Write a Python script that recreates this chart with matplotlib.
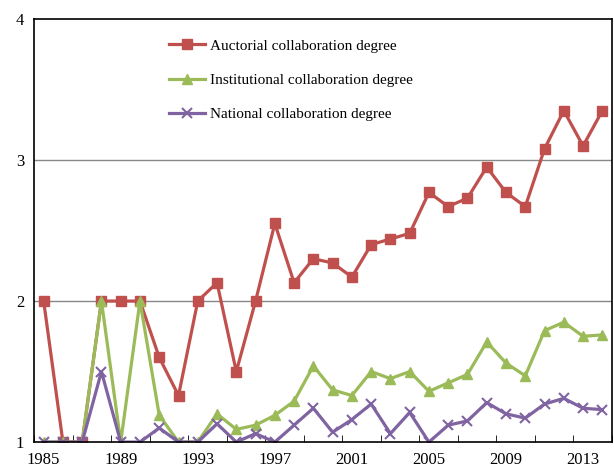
import numpy as np
import matplotlib.pyplot as plt

plt.rcParams['font.family'] = ['Liberation Serif', 'DejaVu Serif']

years = list(range(1985, 2015))
auctorial = [2.0, 1.0, 1.0, 2.0, 2.0, 2.0, 1.6, 1.33, 2.0, 2.13,
             1.5, 2.0, 2.55, 2.13, 2.3, 2.27, 2.17, 2.4, 2.44, 2.48,
             2.77, 2.67, 2.73, 2.95, 2.77, 2.67, 3.08, 3.35, 3.1, 3.35]
institutional = [1.0, 1.0, 1.0, 2.0, 1.0, 2.0, 1.19, 1.0, 1.0, 1.2,
                 1.09, 1.12, 1.19, 1.29, 1.54, 1.37, 1.33, 1.5, 1.45, 1.5,
                 1.36, 1.42, 1.48, 1.71, 1.56, 1.47, 1.79, 1.85, 1.75, 1.76]
national = [1.0, 1.0, 1.0, 1.5, 1.0, 1.0, 1.1, 1.0, 1.0, 1.13,
            1.0, 1.06, 1.0, 1.12, 1.24, 1.07, 1.16, 1.27, 1.06, 1.21,
            1.0, 1.12, 1.15, 1.28, 1.2, 1.17, 1.27, 1.31, 1.24, 1.23]
year_labels = [1985, 1989, 1993, 1997, 2001, 2005, 2009, 2013]

fig = plt.figure(figsize=(6.14, 4.69), dpi=100)
ax = fig.add_axes([0.0554, 0.0574, 0.9413, 0.9021])

ax.plot(years, auctorial, color='#C0504D', lw=2.3, marker='s', ms=7.5,
        label='Auctorial collaboration degree')
ax.plot(years, institutional, color='#9BBB59', lw=2.3, marker='^', ms=7.5,
        label='Institutional collaboration degree')
ax.plot(years, national, color='#8064A2', lw=2.3, marker='x', ms=7, mew=1.5,
        label='National collaboration degree')

ax.set_xlim(1984.5, 2014.5)
ax.set_ylim(1, 4)
ax.set_yticks([1, 2, 3, 4])
for y in [2, 3]:
    ax.axhline(y, color='#888888', lw=1, zorder=0)

ax.set_xticks(np.arange(1984.5, 2015, 2), minor=True)
ax.set_xticks(year_labels)
ax.set_xticklabels([str(y) for y in year_labels])
ax.tick_params(axis='x', which='major', length=0, labelsize=12, pad=7)
ax.tick_params(axis='x', which='minor', direction='in', length=5)
ax.tick_params(axis='y', length=0, labelsize=12, pad=7)

for s in ax.spines.values():
    s.set_color('black')
    s.set_linewidth(1.2)

ax.legend(loc='upper left', bbox_to_anchor=(0.209, 0.985), frameon=False,
          fontsize=11, labelspacing=1.35, handlelength=2.4, handletextpad=0.3)

fig.savefig('out.png', dpi=100)
